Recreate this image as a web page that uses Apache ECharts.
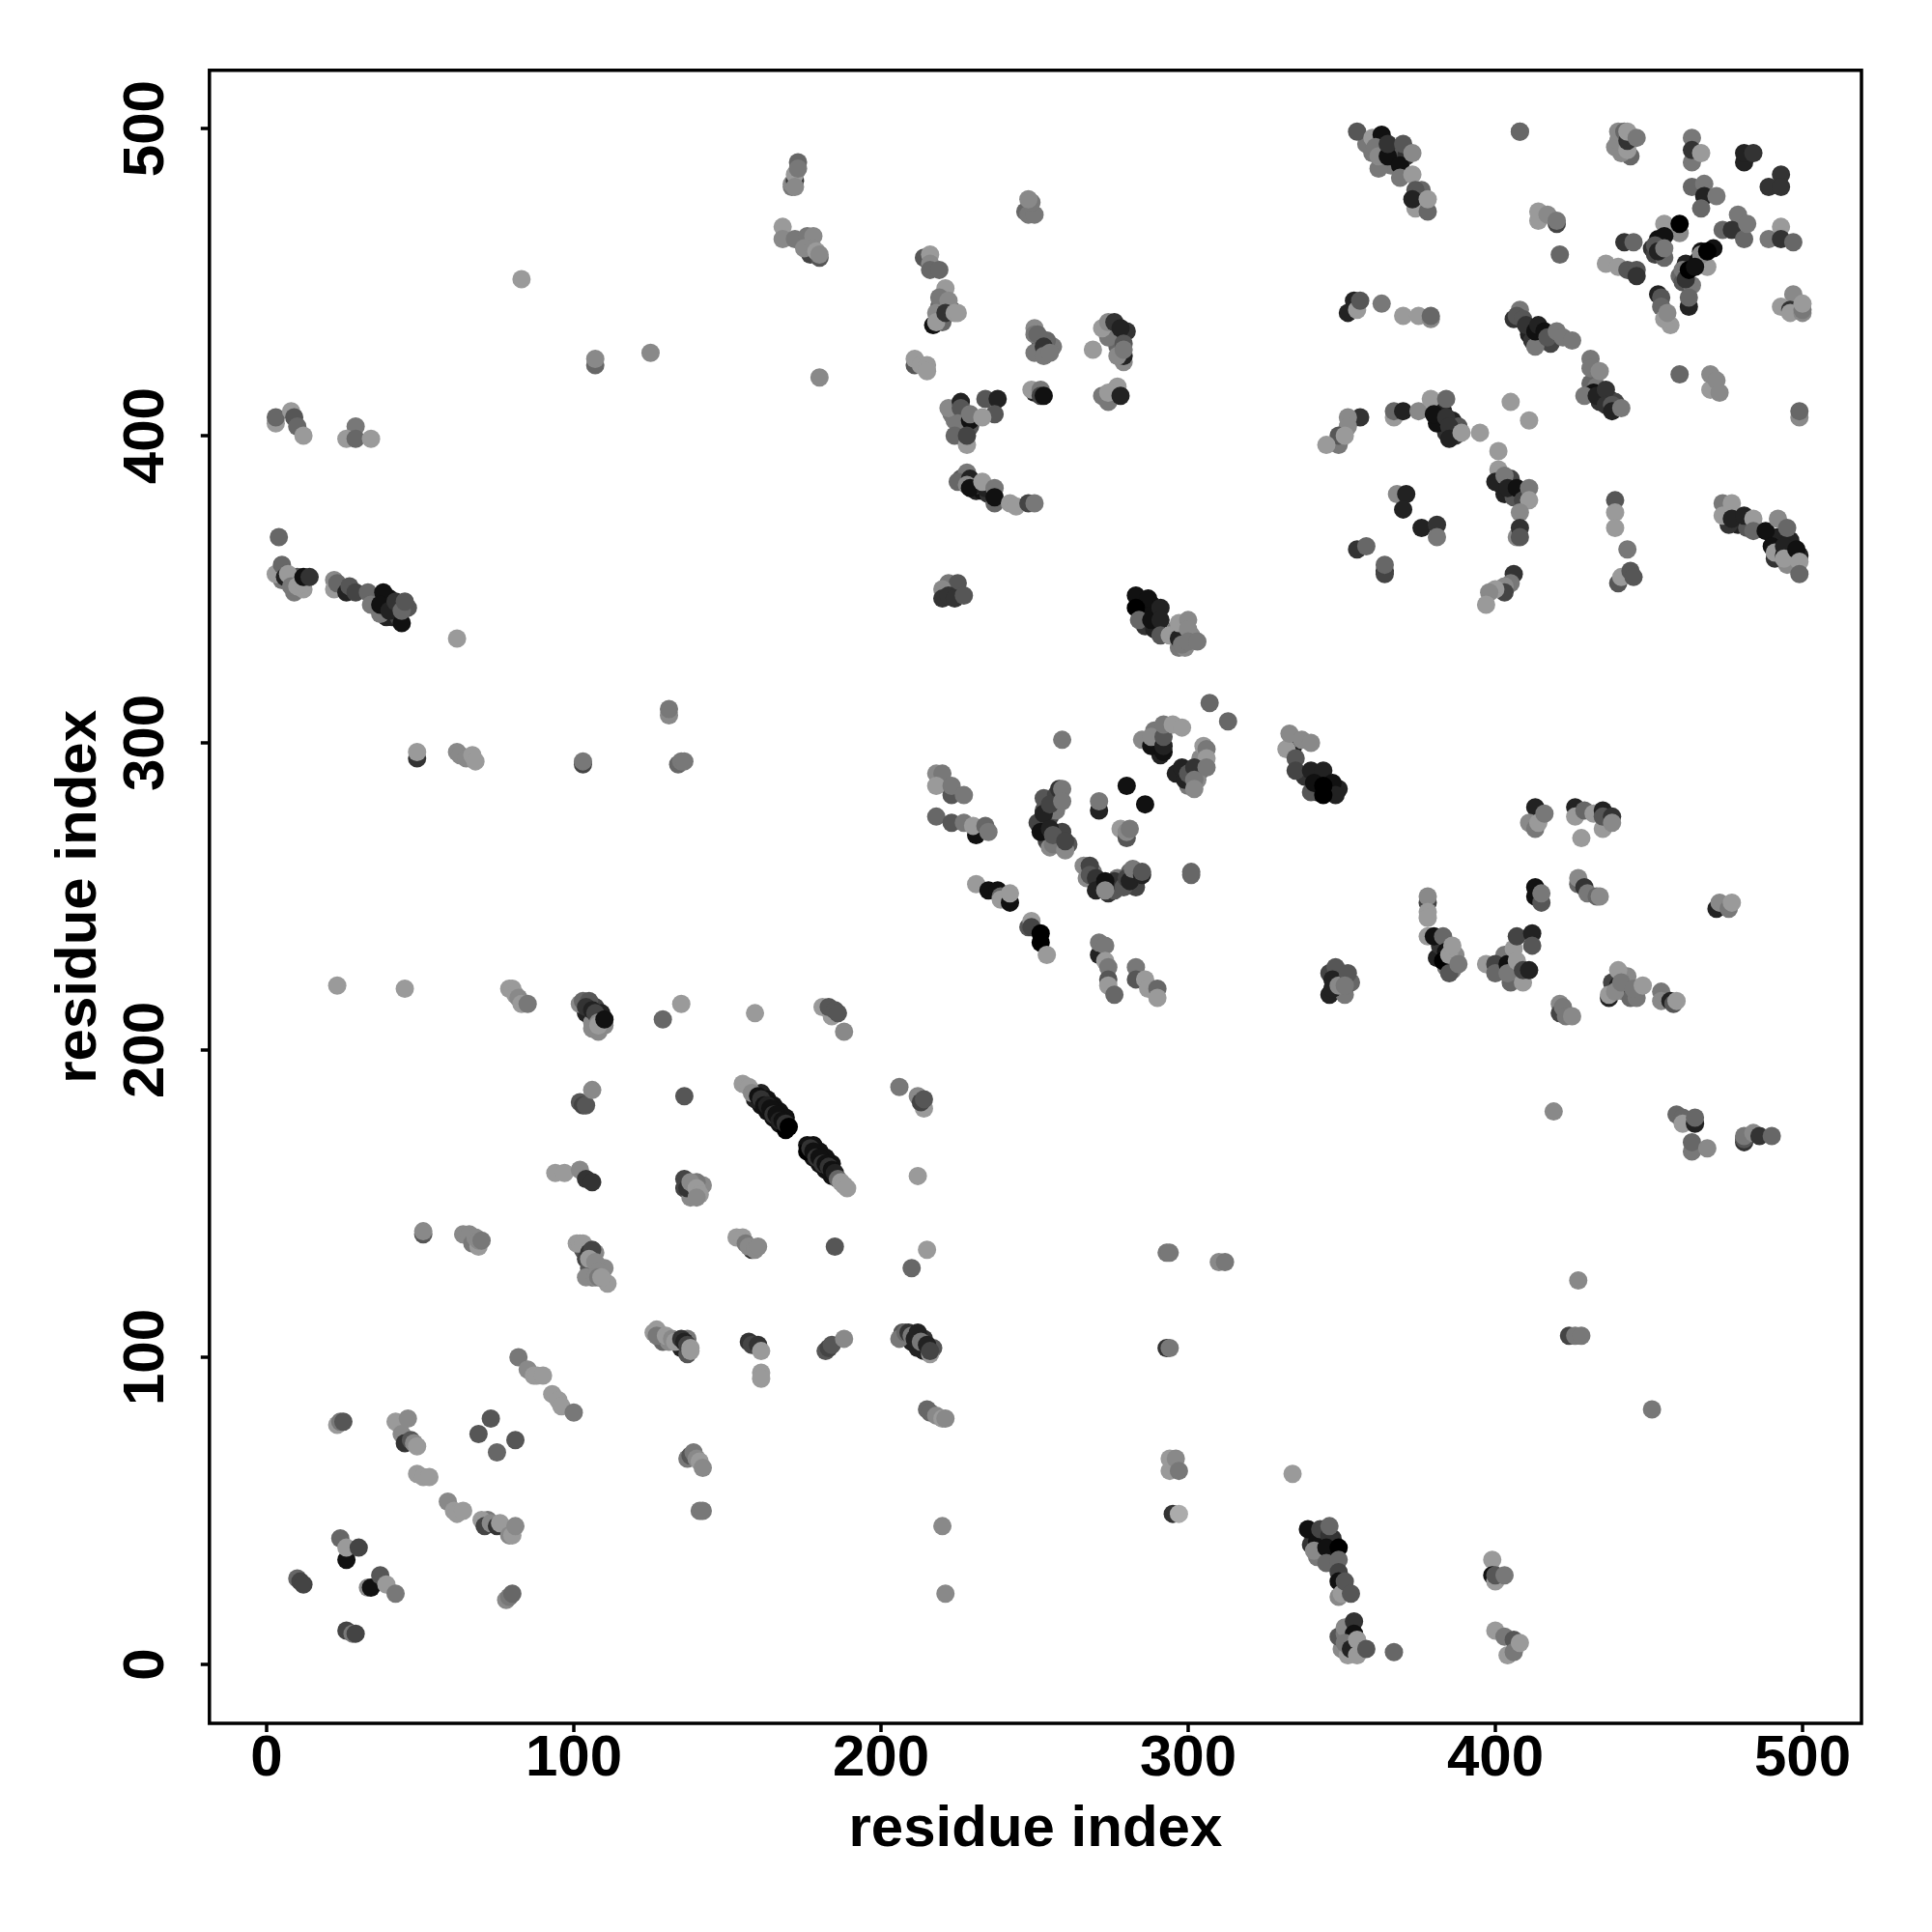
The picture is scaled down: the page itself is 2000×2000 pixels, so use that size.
<!DOCTYPE html>
<html><head><meta charset="utf-8">
<script src="https://cdn.jsdelivr.net/npm/echarts@6/dist/echarts.min.js"></script>
<style>html,body{margin:0;padding:0;background:#fff}#c{width:2000px;height:2000px}</style></head>
<body><div id="c"></div>
<script>
// Each entry: [residue i, residue j, contact score 0-10]
const tickLabels=[0,100,200,300,400,500];
const axisName='residue index';
const underlying=[[161,182,9],[163,180,9],[165,178,9],[167,176,9],[169,174,10],[161,186,8],[163,184,9],[165,182,9],[167,180,9],[169,178,9],[178,165,9],[180,163,9],[182,161,9],[184,159,9],[178,169,9],[180,167,9],[182,165,9],[184,163,9],
[5,353,3],[9,349,3],[12,350,1],[10,354,5],[36,347,8],[39,341,8],[41,341,8],[43,341,6],[46,344,5],[40,347,9],
[104,212,8],[107,214,6],[109,212,8],[110,208,2],[106,209,2],[212,103,8],[210,105,8],[214,102,8],[217,103,5],[214,106,7],[207,108,5],
[286,343,9],[288,345,9],[286,338,7],[289,337,8],[296,337,3],[298,335,8],[301,335,2],[297,331,3],[299,331,2],
[342,289,9],[338,289,7],[342,284,8],[346,284,9],[349,285,8],
[358,495,3],[366,488,3],[362,487,3],[363,495,9],[368,491,5],[360,492,3],[371,491,7],[376,480,4],[375,475,7],
[406,438,7],[411,433,8],[412,431,7],[415,431,9],[418,430,6],[431,417,4],[433,416,3],[432,414,9],[434,411,7],[437,412,8],[439,411,6],
[381,409,5],[383,408,8],[386,405,8],[384,401,7],[387,400,7],[388,403,5],[402,384,8],[405,386,6],[408,381,8],[410,381,7],[403,381,8],[406,380,5],
[492,367,8],[496,366,8],[491,360,7],[497,358,2],[496,362,6],[499,361,8],[495,358,2],[479,371,8],[482,370,5],[476,371,7],
[453,464,9],[451,461,7],[456,467,8],[452,459,6],[455,458,4],[462,456,8],[460,452,4],[461,450,5],[464,449,3],[466,457,9],[471,461,9],
[349,224,6],[350,219,6],[346,218,8],[351,218,3],[346,225,6],[353,222,4],[381,230,8],[382,234,7],[387,231,2],[384,227,3],[386,226,3],[402,226,5],[405,222,4],[403,231,3],
[442,219,3],[444,217,4],[438,222,6],[446,217,3],[443,224,2],
[253,282,5],[255,276,6],[257,278,3],[251,274,6],[254,268,6],[258,269,7],[255,266,2],[259,271,6],[261,267,5],[257,283,6],
[271,253,8],[274,251,7],[276,252,5],[277,256,3],[283,253,6],[281,258,4],[276,255,7],[269,258,3],
[289,304,3],[291,296,8],[290,300,5],[296,290,8],[300,286,3],[304,291,4],[304,295,2],[303,288,2],
[342,35,3],[347,36,5],[340,39,7],[344,40,7],[347,41,7],[351,24,2],[349,22,2],[350,5,2],[352,8,3],[353,12,6],[349,9,5],[352,3,1],
[220,437,4],[223,441,7],[221,443,3],[219,442,4],[224,405,3],[227,402,5],[223,407,3],[229,403,5],[231,382,8],[233,382,9],[235,381,7],[226,386,5],[231,384,4],
[129,105,4],[131,105,2],[135,103,8],[137,101,5],[137,106,3],[136,155,6],[138,152,2],[142,156,2],[140,157,3],
[103,135,5],[104,132,6],[105,129,5],[106,126,5],[107,134,2],[110,129,2],[104,126,2],[111,124,1],
[252,430,5],[250,427,3],[256,429,3],[254,431,4],[276,433,6],[280,434,7],[277,429,4],[274,432,3],[279,424,2],[444,491,4],[441,492,2],[439,494,2]];
const lowerLeft=[[10,28,4],[11,27,6],[12,26,6],[26,11,6],[28,10,3],[29,10,6],[24,41,4],[26,34,9],[26,38,1],[30,38,6],[33,25,2],[34,25,9],[37,29,5],[39,26,1],[42,23,3],
[23,78,1],[24,79,3],[25,79,5],[42,79,1],[46,80,2],[44,75,2],[45,72,7],[47,73,5],[48,72,2],[49,71,1],[49,62,1],[51,61,1],[53,61,1],[59,53,2],[61,50,1],[62,49,1],[64,50,1],
[72,47,3],[70,47,1],[71,45,6],[73,46,2],[75,45,7],[76,46,1],[79,42,2],[80,42,1],[81,45,2],[69,75,5],[73,80,5],[75,69,4],[81,73,5],[78,21,2],[79,22,3],[80,23,4],
[82,100,3],[85,96,2],[87,94,1],[88,94,1],[90,94,1],[93,88,1],[95,86,1],[96,84,1],[100,82,3],
[126,108,1],[127,109,1],[127,107,3],[130,107,1],[132,106,2],[133,105,1],[135,106,7],[136,105,8],[137,104,6],[138,103,1],[138,102,1],
[157,105,7],[158,104,6],[160,104,7],[161,102,1],[161,95,1],[161,93,1],[182,102,5],[183,103,6],[184,104,5],[188,106,2],
[206,106,3],[208,108,4],[209,108,7],[210,107,3],[211,106,8],[212,108,8],[213,105,3],[215,104,8],[216,101,1],[216,102,6],
[215,83,4],[216,82,4],[218,81,2],[220,80,1],[221,80,2],[137,67,3],[138,68,5],[139,69,3],[140,67,2],[141,66,1],[142,64,2],[141,50,3],[142,50,3],[220,45,2],[221,23,2],
[51,140,5],[51,141,2],[64,140,2],[66,140,2],[67,137,3],[68,139,2],[69,136,1],[69,138,2],[70,138,3],
[101,137,1],[102,137,1],[103,137,1],[105,134,7],[106,135,6],[105,132,1],[107,131,2],[108,128,2],[107,126,2],[108,126,3],[109,126,1],
[153,139,1],[155,139,1],[156,137,3],[158,135,7],[157,136,2],[159,135,2],[160,136,2],[185,136,5],[210,129,4],[215,135,1]];
const centerLow=[[94,160,1],[97,160,1],[102,161,2],[104,158,7],[106,157,7],[136,158,6],[137,155,7],[138,157,2],[140,155,1],[141,153,1],[140,152,2],[212,159,1],
[155,189,1],[157,188,1],[159,184,8],[158,186,2],[160,185,9],[161,184,7],[162,182,9],[163,182,8],[164,181,9],[165,179,7],[166,179,9],[167,177,8],[168,177,9],[169,176,7],[170,175,10],
[176,169,9],[176,167,10],[177,168,7],[178,167,9],[179,165,7],[180,165,9],[181,163,7],[182,163,9],[183,162,7],[184,161,9],[185,160,8],[186,158,4],[187,157,1],[188,156,1],[189,155,1],
[102,183,5],[103,182,6],[104,182,5],[106,187,2],[136,185,5],[206,188,3],[212,185,2],[214,181,1],[213,183,6],[214,184,5],
[23,221,1],[45,220,1],[79,220,1],[80,220,1],[81,218,1],[82,217,2],[83,215,1],[85,215,3],
[102,215,2],[103,216,4],[105,216,5],[104,214,7],[106,213,8],[106,207,2],[108,206,2],[107,212,6],[108,209,2],[108,208,1],[110,210,9],
[129,210,4],[135,215,1],[159,212,1],[181,214,1],[184,211,1],[183,214,5],[185,213,5],[186,212,5],[188,206,2]];
const leftUpper=[[4,367,4],[3,355,1],[5,358,4],[6,354,8],[7,355,1],[8,351,3],[10,351,1],[12,352,1],[12,354,9],[14,354,7],
[22,353,2],[22,350,1],[23,352,4],[26,349,8],[27,351,5],[29,349,6],[33,349,4],[34,345,3],[38,349,9],[37,342,3],[37,345,9],[40,343,8],[42,346,7],[44,339,9],[44,343,4],[45,346,5],
[3,404,1],[3,406,4],[8,408,1],[9,406,5],[10,403,4],[12,400,1],[29,403,3],[26,399,1],[29,399,4],[34,399,1],
[62,334,1],[49,295,7],[49,297,1],[62,297,2],[63,296,2],[65,295,2],[67,296,1],[68,294,1],[103,293,6],[103,294,3],[131,309,2],[131,311,3],[134,293,4],[135,294,3],[136,294,3],
[83,451,1],[107,423,4],[107,425,2],[125,427,2],[180,419,2]];
const topMiddle=[[171,481,3],[171,482,2],[172,483,7],[172,485,1],[172,481,2],[173,489,4],[173,487,3],[168,468,1],[168,464,2],[172,464,3],
[176,465,3],[178,465,2],[177,459,6],[175,461,2],[178,461,2],[180,458,5],[179,460,1],[180,459,2],[247,473,4],[248,472,3],[250,472,3],[249,476,3],[248,477,2],
[214,458,5],[216,459,1],[216,456,2],[216,454,4],[219,454,4],[221,448,1],[219,445,3],[222,444,2],[217,436,9],[218,440,2],[218,437,1],[221,440,7],[224,440,1],[225,440,1],
[211,423,5],[211,425,1],[213,423,1],[215,423,1],[215,421,1],[250,435,2],[250,433,3],[251,433,4],[253,429,7],[253,426,3],[255,427,3],
[272,435,1],[274,437,2],[276,437,7],[278,435,8],[279,426,8],[279,430,5],[277,426,2],[279,428,3],[269,428,1],
[250,414,8],[249,415,1],[252,415,3],[252,413,6],[253,413,9],[272,413,3],[274,411,3],[277,416,1],[274,414,1],[278,413,8],
[222,409,2],[226,411,8],[226,409,5],[225,404,3],[229,405,9],[229,407,3],[234,412,5],[238,412,8],[237,407,5],[233,406,1],[224,400,4],[228,397,1],[228,400,6],
[228,388,3],[225,385,4],[229,386,8],[228,384,2],[229,383,9],[234,383,8],[233,385,1],[237,383,3],[237,378,4],[237,380,9],[242,378,1],[244,377,1],[248,378,6],[250,378,3]];
const upperRight=[[355,499,5],[360,497,1],[363,498,9],[361,494,3],[362,491,2],[365,491,9],[365,495,7],[370,495,5],[369,488,9],[373,492,2],[369,484,3],[373,485,1],[374,474,1],[378,473,4],[374,480,5],[373,477,8],[378,477,1],
[408,499,2],[408,499,4],[414,470,1],[414,473,1],[420,469,6],[417,472,2],[420,470,3],[421,459,4],
[440,496,2],[440,499,2],[443,493,1],[442,499,4],[443,496,7],[443,499,1],[446,497,3],
[464,489,3],[464,497,3],[464,493,7],[467,492,1],[481,489,8],[481,492,8],[484,492,7],[493,485,7],[489,481,7],[493,481,7],
[464,481,4],[468,482,3],[468,478,8],[472,478,3],[467,474,4],
[460,466,2],[455,469,1],[455,465,9],[460,469,10],[452,462,5],[453,460,8],[455,461,3],[442,463,7],[445,463,4],
[474,467,4],[479,472,3],[477,467,7],[481,464,4],[482,469,3],[489,464,3],[493,468,1],[493,464,7],[497,463,4],
[436,456,1],[440,455,1],[443,454,5],[446,454,5],[446,452,7],
[469,455,1],[467,460,9],[467,459,2],[469,460,10],[461,454,3],[462,451,7],[463,454,10],[465,455,9],
[453,446,8],[454,445,5],[454,442,4],[457,436,1],[455,438,1],[456,440,2],[463,442,8],[463,445,4],
[497,446,2],[493,442,1],[496,441,7],[496,440,1],[500,440,2],[500,441,3],[500,443,1],
[352,440,8],[354,444,8],[355,441,1],[356,444,5],[363,443,3],[370,439,1],[375,439,1],[379,438,2],[379,439,4],
[408,441,3],[407,439,5],[409,438,5],[410,436,7],[413,429,3],[413,434,9],[414,436,8],[416,434,9],[417,432,5],[420,434,3],[422,432,3],[425,431,3],
[431,425,3],[431,422,3],[429,413,3],[434,421,2],[433,413,8],[436,415,7],[436,410,7],[438,410,5],[438,408,8],[441,409,3],
[460,420,4],[470,415,1],[470,420,2],[472,418,2],[473,414,2],[499,406,2],[499,408,4],
[356,406,7],[352,406,2],[352,403,2],[349,397,3],[349,400,5],[345,397,1],[351,400,1],
[367,406,1],[367,408,4],[370,408,8],[375,408,2],[379,412,1],[381,404,9],[380,407,9],[384,412,4],[384,406,7],[385,403,7],[385,399,8],[389,401,1],[395,401,1],
[405,411,1],[411,405,1],[401,395,1],[401,389,1],[400,385,8],[403,387,3],[404,383,8],[407,383,9],[409,379,6],[411,383,3],[411,379,1],[408,375,2],[407,367,2],[408,370,7],[408,367,5],
[368,381,2],[371,381,8],[370,376,8],[376,370,8],[381,371,7],[381,367,3],[355,363,7],[358,364,4],[364,356,8],[364,355,6],[364,358,4],
[439,379,5],[439,375,1],[439,370,1],[443,363,3],[440,352,5],[441,354,1],[444,356,5],[445,354,5],
[406,355,7],[405,352,3],[403,351,2],[403,349,6],[400,350,1],[398,349,2],[397,345,1],
[474,378,3],[474,374,1],[477,378,1],[477,373,8],[481,374,8],[484,373,1],[484,369,4],[488,369,9],[490,364,9],[491,362,1],[494,361,9],[494,364,8],[492,373,2],[495,370,4],[494,360,1],[498,363,9],[499,359,1],[499,355,4]];
const middleBand=[[222,352,3],[225,352,5],[220,350,2],[220,347,7],[222,348,7],[224,347,7],[227,348,5],
[283,348,9],[287,347,9],[283,344,10],[284,340,4],[288,340,9],[291,344,8],[291,340,8],[291,335,5],[294,335,1],[297,334,8],[297,339,1],[300,340,2],[300,337,2],[298,332,3],[300,333,3],[303,333,3],
[307,313,4],[313,307,4],[259,301,3],[285,301,2],[288,299,9],[288,302,2],[292,297,9],[292,299,8],[292,302,5],[292,306,3],[295,306,1],[298,305,1],
[305,299,1],[306,298,3],[306,295,1],[299,288,8],[298,292,8],[300,290,5],[302,292,7],[302,288,3],[306,292,3],[302,285,2],
[218,290,2],[220,290,3],[218,286,1],[223,283,5],[223,286,3],[227,283,3],[218,276,4],[223,274,5],[227,274,3],[231,270,9],[230,273,1],[234,273,4],[235,271,3],
[253,278,5],[253,277,8],[255,280,6],[258,285,7],[259,285,3],[259,281,3],[252,271,9],[255,272,8],[256,267,3],[256,270,5],[260,265,2],[260,268,6],
[271,278,8],[271,281,3],[280,286,9],[286,280,9],[278,272,1],[280,269,5],[280,271,2],[281,272,3],
[266,260,2],[268,260,6],[267,256,2],[268,257,5],[270,256,7],[270,252,8],[273,255,9],[273,252,2],[279,253,5],[280,256,6],[281,255,8],[282,259,3],[285,257,8],[285,258,5],[301,257,4],[301,258,4],
[231,254,1],[235,252,9],[238,252,9],[239,250,4],[239,249,1],[242,248,9],[242,251,1],
[248,240,5],[249,242,1],[249,240,6],[252,238,10],[252,235,10],[254,231,1],[271,231,8],[271,235,3],[273,234,3],[273,229,1],[274,227,3],[274,223,5],[274,221,1],[276,218,4],
[283,227,3],[283,223,5],[286,223,1],[287,220,1],[290,220,4],[290,217,1],
[334,298,8],[332,298,1],[333,303,2],[335,295,5],[337,301,2],[340,300,2],[335,291,6],[340,291,8],[344,291,8],[340,284,5],[341,287,9],[347,287,9],[348,283,8],[344,286,10],[344,283,10],
[348,227,5],[347,223,8],[347,220,8],[349,221,2],[352,225,5],[351,221,3]];
const rightMiddle=[[413,279,8],[411,274,2],[413,272,3],[414,274,1],[416,277,3],[426,279,8],[426,276,1],[429,278,4],[432,277,1],[435,278,8],[435,272,1],[435,276,5],[438,276,7],[438,274,2],[428,269,1],
[413,253,9],[413,250,9],[415,248,5],[415,251,3],[427,254,4],[427,256,2],[429,253,7],[430,251,3],[433,250,4],[434,250,2],
[378,248,6],[378,250,2],[378,245,1],[378,243,1],[378,237,1],[380,237,9],[383,237,4],[384,232,9],[383,229,10],[385,231,1],[385,225,5],[386,234,1],[388,228,3],
[397,228,1],[400,228,6],[400,225,4],[404,228,9],[404,225,3],[406,233,1],[407,237,6],[412,238,8],[412,234,5],[407,229,1],[409,222,1],[409,226,6],[411,226,8],
[440,226,1],[437,217,8],[437,218,1],[440,221,8],[439,219,2],[441,222,3],[445,220,3],[448,221,1],[454,219,3],[454,216,2],[457,216,8],[458,215,5],[459,216,1],
[421,215,2],[421,212,6],[422,214,3],[423,211,3],[425,211,2],[472,246,8],[473,248,2],[476,246,3],[477,248,1],
[419,180,2],[427,125,2],[459,179,4],[461,178,4],[461,176,1],[465,176,8],[465,178,4],[464,167,3],[464,170,4],[469,168,2],
[481,170,7],[481,171,5],[481,172,3],[484,173,2],[486,172,7],[490,172,4]];
const lowerRight=[[424,107,6],[426,107,3],[428,107,3],[293,103,7],[294,103,3],[293,134,3],[294,134,3],[310,131,2],[312,131,3],[451,83,3],
[294,63,1],[294,67,1],[296,67,2],[297,63,3],[295,49,7],[297,49,0],[334,62,1],
[339,44,9],[342,40,9],[341,37,2],[343,44,6],[346,42,7],[346,45,4],[345,38,9],[349,38,10],[345,33,4],[349,34,4],[349,30,6],[349,27,9],[350,23,1],[351,27,5],[353,23,5],
[351,10,3],[351,12,2],[354,14,7],[354,10,9],[351,7,3],[353,5,8],[355,8,1],[355,3,1],[358,5,5],[367,4,4],
[399,34,1],[399,29,9],[400,27,1],[400,29,5],[403,29,3],[400,11,1],[403,9,3],[404,3,1],[406,8,5],[406,4,3],[408,7,1]];

const contacts=[].concat(underlying,lowerLeft,centerLow,leftUpper,topMiddle,upperRight,middleBand,rightMiddle,lowerRight);
const font='"Liberation Sans"';
function axis(extra){
  return Object.assign({
    type:'value',splitLine:{show:false},
    axisLine:{show:false,onZero:false},
    axisTick:{show:true,length:9,customValues:tickLabels,lineStyle:{color:'#000',width:3.5}},
    axisLabel:{customValues:tickLabels,color:'#000',fontFamily:font,fontWeight:'bold',fontSize:60},
    name:axisName,nameLocation:'middle',
    nameTextStyle:{color:'#000',fontFamily:font,fontWeight:'bold',fontSize:60}
  },extra);
}
const chart=echarts.init(document.getElementById('c'),null,{renderer:'canvas'});
const xa=axis({min:-18.6,max:519.2,nameGap:80});
xa.axisLabel.margin=7;
const ya=axis({min:-19.2,max:519,nameGap:104});
ya.axisLabel.rotate=90;ya.axisLabel.margin=34;ya.axisLabel.align='center';ya.axisLabel.verticalAlign='bottom';
chart.setOption({
  animation:false,backgroundColor:'#fff',
  grid:{left:216.8,top:72.7,width:1710.2,height:1711.3,show:true,borderColor:'#000',borderWidth:3.5,backgroundColor:'transparent'},
  xAxis:xa,yAxis:ya,
  visualMap:{show:false,type:'continuous',dimension:2,min:0,max:10,inRange:{color:['#ababab','#000000']}},
  series:[{type:'scatter',symbol:'circle',symbolSize:19,data:contacts,itemStyle:{opacity:1},progressive:0,clip:false}]
});
</script></body></html>
